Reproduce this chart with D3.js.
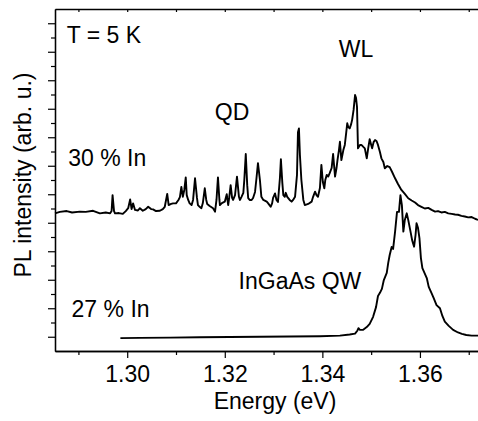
<!DOCTYPE html>
<html>
<head>
<meta charset="utf-8">
<script src="https://cdn.jsdelivr.net/npm/d3@7"></script>
<style>
body{margin:0;background:#fff;}
#chart{width:478px;height:421px;}
#chart text{font-family:"Liberation Sans",Arial,Helvetica,sans-serif;fill:#000;}
</style>
</head>
<body>
<div id="chart"></div>
<script>
//数据: 30 % In 样品 (QD + WL)
var energyQD=[1.2852,1.2862,1.2876,1.2887,1.2903,1.2915,1.2930,1.2944,1.2956,1.2965,
    1.2968,1.2970,1.2973,1.2975,1.2983,1.2991,1.2997,1.3002,1.3006,1.3009,
    1.3012,1.3016,1.3022,1.3026,1.3032,1.3038,1.3043,1.3049,1.3053,1.3059,
    1.3067,1.3073,1.3077,1.3082,1.3085,1.3090,1.3094,1.3100,1.3105,1.3108,
    1.3111,1.3114,1.3117,1.3120,1.3122,1.3125,1.3128,1.3132,1.3135,1.3139,
    1.3143,1.3145,1.3149,1.3152,1.3155,1.3159,1.3162,1.3164,1.3169,1.3176,
    1.3180,1.3183,1.3186,1.3189,1.3190,1.3194,1.3200,1.3204,1.3207,1.3209,
    1.3212,1.3215,1.3217,1.3221,1.3225,1.3229,1.3231,1.3234,1.3238,1.3240,
    1.3243,1.3246,1.3248,1.3251,1.3255,1.3258,1.3262,1.3265,1.3268,1.3272,
    1.3275,1.3279,1.3286,1.3289,1.3294,1.3297,1.3299,1.3303,1.3306,1.3309,
    1.3313,1.3315,1.3318,1.3320,1.3323,1.3325,1.3328,1.3333,1.3337,1.3340,
    1.3344,1.3348,1.3350,1.3352,1.3354,1.3357,1.3361,1.3364,1.3371,1.3378,
    1.3381,1.3385,1.3388,1.3391,1.3395,1.3398,1.3401,1.3404,1.3406,1.3409,
    1.3412,1.3415,1.3419,1.3422,1.3426,1.3429,1.3431,1.3434,1.3436,1.3439,
    1.3443,1.3446,1.3449,1.3451,1.3453,1.3456,1.3459,1.3461,1.3464,1.3467,
    1.3469,1.3471,1.3473,1.3477,1.3480,1.3484,1.3487,1.3491,1.3494,1.3497,
    1.3499,1.3502,1.3505,1.3508,1.3511,1.3514,1.3518,1.3521,1.3525,1.3528,
    1.3533,1.3538,1.3543,1.3549,1.3555,1.3562,1.3569,1.3576,1.3583,1.3590,
    1.3596,1.3603,1.3610,1.3617,1.3624,1.3631,1.3637,1.3644,1.3651,1.3658,
    1.3665,1.3672,1.3678,1.3685,1.3692,1.3699,1.3706,1.3713,1.3719];
var intensityQD=[4.83,4.88,4.91,4.86,4.89,4.88,4.92,4.83,4.86,4.83,
    4.91,5.47,4.91,4.83,4.84,4.81,4.91,5.01,5.32,4.98,
    5.18,4.95,4.93,5.01,4.92,4.98,5.06,4.98,4.97,4.91,
    4.92,4.98,5.06,5.51,5.12,5.16,5.18,5.18,5.30,5.40,
    5.76,5.41,5.65,6.09,5.47,5.30,5.18,5.12,5.30,6.06,
    5.37,5.12,5.05,5.01,5.19,5.71,5.30,5.16,5.09,5.01,
    4.89,5.30,6.09,5.30,5.12,5.19,5.24,5.50,5.12,5.37,
    5.82,5.37,5.30,5.47,6.12,5.41,5.30,5.40,5.55,6.00,
    6.91,5.82,5.36,5.30,5.30,5.37,5.58,6.07,6.59,6.00,
    5.41,5.30,5.24,5.18,5.06,5.18,5.37,5.53,5.30,5.23,
    6.07,6.73,5.89,5.47,5.41,5.55,5.41,5.30,5.24,5.30,
    5.41,6.18,7.68,7.81,6.88,6.00,5.30,5.12,5.16,5.24,
    5.41,5.59,5.47,5.41,5.72,6.53,5.93,5.71,6.00,6.18,
    6.12,6.24,6.42,6.91,6.12,6.42,6.70,7.05,7.34,6.70,
    7.05,7.23,7.68,7.99,7.86,7.81,7.96,8.11,8.46,8.98,
    8.88,8.57,7.11,7.23,7.23,7.16,7.11,6.76,7.12,7.43,
    7.30,7.11,7.33,7.40,7.37,7.23,6.98,6.76,6.63,6.41,
    6.49,6.45,6.28,6.06,5.86,5.65,5.51,5.36,5.28,5.21,
    5.12,5.06,5.00,5.02,4.95,4.89,4.91,4.86,4.88,4.83,
    4.81,4.79,4.78,4.74,4.72,4.69,4.70,4.64,4.60];
//数据: 27 % In 样品 (InGaAs QW)
var energyQW=[1.2986,1.3026,1.3088,1.3149,1.3210,1.3272,1.3333,1.3395,1.3436,1.3456,
    1.3467,1.3472,1.3474,1.3477,1.3483,1.3491,1.3497,1.3504,1.3510,1.3514,
    1.3518,1.3522,1.3526,1.3532,1.3535,1.3538,1.3542,1.3545,1.3549,1.3553,
    1.3557,1.3560,1.3563,1.3566,1.3569,1.3573,1.3576,1.3580,1.3584,1.3588,
    1.3591,1.3593,1.3596,1.3599,1.3602,1.3605,1.3614,1.3618,1.3624,1.3628,
    1.3634,1.3641,1.3646,1.3651,1.3659,1.3668,1.3678,1.3686,1.3695,1.3706,
    1.3719];
var intensityQW=[0.45,0.46,0.47,0.48,0.49,0.50,0.51,0.52,0.54,0.58,
    0.61,0.72,0.80,0.74,0.74,0.84,0.95,1.20,1.54,1.93,
    2.04,2.18,2.49,2.74,3.09,3.37,3.65,3.58,4.18,4.88,
    4.88,5.47,5.12,4.19,4.60,4.83,4.60,4.25,3.89,3.66,
    4.07,4.48,4.32,3.96,3.26,2.91,2.56,2.25,2.02,1.86,
    1.61,1.50,1.23,1.03,0.88,0.74,0.65,0.60,0.56,0.54,
    0.54];
//刻度
var xMajorTicks=[1.30,1.32,1.34,1.36];
var xMinorTicks=[1.29,1.31,1.33,1.35,1.37];
var yMajorTicks=[0.5,1.5,2.5,3.5,4.5,5.5,6.5,7.5,8.5,9.5,10.5,11.5];
var yMinorTicks=[1,2,3,4,5,6,7,8,9,10,11];
//注释文字
var noteTexts=["T = 5 K","WL","QD","30 % In","27 % In","InGaAs QW"];

//1.svg
var svgwidth=478,svgheight=421;
var _svg=d3.select("#chart")
    .append("svg")
    .attr("width",svgwidth)
    .attr("height",svgheight);
//2.绘图区边界
var _margin={top:9,left:55,right:0,bottom:70};
var _xscale=d3.scaleLinear()
    .domain([1.2852,1.3719])
    .range([_margin.left,svgwidth-_margin.right]);
var _yscale=d3.scaleLinear()
    .domain([0,12])
    .range([svgheight-_margin.bottom,_margin.top]);
var ybottom=svgheight-_margin.bottom;

//3.x轴 (下)
var gxMinor=_svg.append("g").attr("transform","translate(0,"+ybottom+")");
d3.axisBottom(_xscale).tickValues(xMinorTicks).tickSize(4).tickSizeOuter(0).tickFormat("")(gxMinor);
var gxMajor=_svg.append("g").attr("transform","translate(0,"+ybottom+")");
d3.axisBottom(_xscale).tickValues(xMajorTicks).tickSize(7).tickSizeOuter(0).tickPadding(8)
    .tickFormat(d3.format(".2f"))(gxMajor);
gxMajor.selectAll("text").attr("font-size","23px").attr("fill","#000");
//上边框 (刻度朝内)
var gxTop=_svg.append("g").attr("transform","translate(0,"+_margin.top+")");
d3.axisBottom(_xscale).tickValues(xMajorTicks.concat(xMinorTicks)).tickSize(3).tickSizeOuter(0).tickFormat("")(gxTop);

//4.y轴 (左)
var gyMinor=_svg.append("g").attr("transform","translate("+_margin.left+",0)");
d3.axisLeft(_yscale).tickValues(yMinorTicks).tickSize(4).tickSizeOuter(0).tickFormat("")(gyMinor);
var gyMajor=_svg.append("g").attr("transform","translate("+_margin.left+",0)");
d3.axisLeft(_yscale).tickValues(yMajorTicks).tickSize(7).tickSizeOuter(0).tickFormat("")(gyMajor);

//轴颜色
_svg.selectAll(".domain").attr("stroke","#000").attr("stroke-width",1.3);
_svg.selectAll(".tick line").attr("stroke","#000").attr("stroke-width",1.2);

//5.光谱曲线
var _line=d3.line()
    .x(function(d){return _xscale(d[0]);})
    .y(function(d){return _yscale(d[1]);});
var datasetQD=d3.zip(energyQD,intensityQD);
var datasetQW=d3.zip(energyQW,intensityQW);
_svg.append("g")
    .selectAll("path")
    .data([datasetQD,datasetQW])
    .enter()
    .append("path")
    .attr("d",function(d){return _line(d);})
    .attr("fill","none")
    .attr("stroke","#000")
    .attr("stroke-width",1.9)
    .attr("stroke-linejoin","round");

//6.注释
var notePos=[[1.2876,10.82,"start"],[1.3469,10.31,"middle"],[1.3215,8.12,"middle"],
    [1.2879,6.50,"start"],[1.2886,1.20,"start"],[1.3354,2.16,"middle"]];
_svg.append("g")
    .selectAll("text")
    .data(noteTexts)
    .enter()
    .append("text")
    .attr("x",function(d,i){return _xscale(notePos[i][0]);})
    .attr("y",function(d,i){return _yscale(notePos[i][1]);})
    .attr("text-anchor",function(d,i){return notePos[i][2];})
    .attr("font-size","23px")
    .text(function(d){return d;});

//7.坐标轴标题
_svg.append("text")
    .attr("x",275)
    .attr("y",409)
    .attr("text-anchor","middle")
    .attr("font-size","23px")
    .text("Energy (eV)");
_svg.append("text")
    .attr("transform","translate(30.5,175) rotate(-90)")
    .attr("text-anchor","middle")
    .attr("font-size","23px")
    .text("PL intensity (arb. u.)");
</script>
</body>
</html>
